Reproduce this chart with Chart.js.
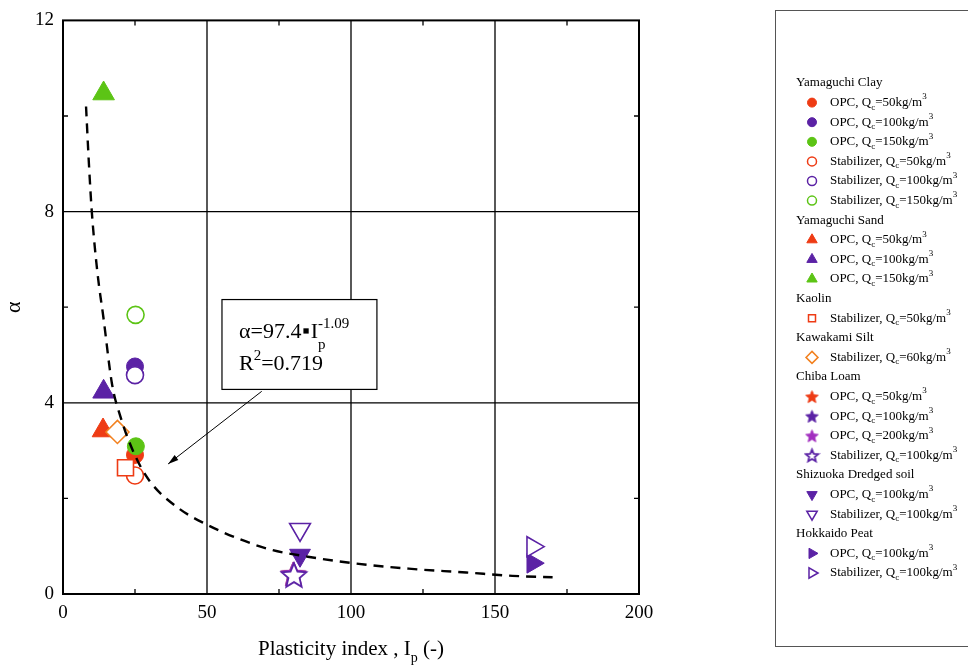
<!DOCTYPE html>
<html>
<head>
<meta charset="utf-8">
<script src="https://cdn.jsdelivr.net/npm/chart.js@4.4.0/dist/chart.umd.min.js"></script>
<style>
body { margin: 0; background: #fff; }
canvas { display: block; }
</style>
</head>
<body>
<canvas id="alphaChart" width="968" height="667"></canvas>
<script>
// soil groups shown in the legend
const groupNames = ["Yamaguchi Clay", "Yamaguchi Sand", "Kaolin", "Kawakami Silt", "Chiba Loam", "Shizuoka Dredged soil", "Hokkaido Peat"];

// one entry per series
const seriesGroup  = [0, 0, 0, 0, 0, 0, 1, 1, 1, 2, 3, 4, 4, 4, 4, 5, 5, 6, 6];
const seriesBinder = ["OPC", "OPC", "OPC", "Stabilizer", "Stabilizer", "Stabilizer",
                      "OPC", "OPC", "OPC", "Stabilizer", "Stabilizer",
                      "OPC", "OPC", "OPC", "Stabilizer", "OPC", "Stabilizer", "OPC", "Stabilizer"];
const seriesQc     = [50, 100, 150, 50, 100, 150, 50, 100, 150, 50, 60, 50, 100, 200, 100, 100, 100, 100, 100];
const seriesIp     = [25, 25, 25.3, 25, 25, 25.2, 13.9, 14.1, 14.1, 21.7, 18.9, 80, 80, 80, 80.2, 82.3, 82.3, 163.1, 163.1];
const seriesAlpha  = [2.91, 4.76, 3.09, 2.48, 4.58, 5.84, 3.42, 4.23, 10.47, 2.64, 3.39, 0.42, 0.42, 0.42, 0.40, 0.81, 1.35, 0.645, 0.99];

// fitted curve
const curveIp    = [8, 9, 10, 12, 14, 17, 20, 25, 30, 40, 50, 60, 72, 85, 100, 120, 140, 156, 170];
const curveAlpha = [10.2, 9.0, 8.0, 6.7, 5.8, 4.4, 3.7, 2.9, 2.37, 1.8, 1.45, 1.18, 0.93, 0.78, 0.65, 0.53, 0.45, 0.38, 0.35];

// axis ticks
const xLabels = [0, 50, 100, 150, 200];
const yLabels = [0, 4, 8, 12];
const xMinor = [25, 75, 125, 175];
const yMinor = [2, 6, 10];

// styles
const RED = "#ee3b14", PURPLE = "#5b22a5", GREEN = "#5cc415", ORANGE = "#f2811f", MAGENTA = "#a22fbf";
const seriesColor  = [RED, PURPLE, GREEN, RED, PURPLE, GREEN, RED, PURPLE, GREEN, RED, ORANGE, RED, PURPLE, MAGENTA, PURPLE, PURPLE, PURPLE, PURPLE, PURPLE];
const seriesShape  = ["circle", "circle", "circle", "circle", "circle", "circle", "triUp", "triUp", "triUp", "square", "diamond",
                      "star", "star", "star", "star", "triDown", "triDown", "triRight", "triRight"];
const seriesFilled = [true, true, true, false, false, false, true, true, true, false, false, true, true, true, false, true, false, true, false];

const FONT = "'Liberation Serif', 'Times New Roman', serif";

function makeStar(color, filled, R) {
    const c = document.createElement("canvas");
    const s = Math.ceil(2 * R + 4);
    c.width = s; c.height = s;
    const g = c.getContext("2d");
    const cx = s / 2, cy = s / 2 + R * 0.1;
    g.beginPath();
    for (let k = 0; k < 10; k++) {
        const r = k % 2 === 0 ? R : R * 0.45;
        const a = -Math.PI / 2 + k * Math.PI / 5;
        g.lineTo(cx + r * Math.cos(a), cy + r * Math.sin(a));
    }
    g.closePath();
    g.fillStyle = filled ? color : "#fff";
    g.fill();
    g.lineWidth = filled ? 1 : 1.8;
    g.strokeStyle = color;
    g.stroke();
    return c;
}

function markerStyle(i, small) {
    const shape = seriesShape[i];
    const col = seriesColor[i];
    const f = seriesFilled[i];
    switch (shape) {
        case "circle":   return { style: "circle", r: small ? 4.5 : 8.5, rot: 0 };
        case "triUp":    return { style: "triangle", r: small ? 6 : 12.5, rot: 0 };
        case "triDown":  return { style: "triangle", r: small ? 6 : 12, rot: 180 };
        case "triRight": return { style: "triangle", r: small ? 6 : 11.5, rot: 90 };
        case "square":   return { style: "rect", r: small ? 5 : 11.3, rot: 0 };
        case "diamond":  return { style: "rectRot", r: small ? 6 : 11.5, rot: 0 };
        case "star":     return { style: makeStar(col, f, small ? 6.5 : 13), r: small ? 6.5 : 13, rot: 0 };
    }
}

const pointSets = seriesIp.map((ip, i) => {
    const m = markerStyle(i, false);
    return {
        type: "scatter",
        data: [{ x: ip, y: seriesAlpha[i] }],
        order: seriesIp.length - i + 1,
        pointStyle: m.style,
        pointRadius: m.r,
        pointHoverRadius: m.r,
        pointRotation: m.rot,
        backgroundColor: seriesFilled[i] ? seriesColor[i] : "#fff",
        borderColor: seriesColor[i],
        borderWidth: seriesFilled[i] ? 1 : 1.6
    };
});

const curveSet = {
    type: "line",
    data: curveIp.map((x, i) => ({ x: x, y: curveAlpha[i] })),
    borderColor: "#000",
    borderWidth: 2.4,
    borderDash: [10, 7],
    pointRadius: 0,
    fill: false,
    cubicInterpolationMode: "monotone",
    order: 0
};

// rich text: n = normal, sub, sup, both = [sub, sup] stacked, dot = product dot
function rich(ctx, parts, x, y, size, draw) {
    const small = Math.round(size * 0.68);
    let cx = x;
    parts.forEach(p => {
        const k = p.k || "n";
        if (k === "n") {
            ctx.font = `${size}px ${FONT}`;
            if (draw) ctx.fillText(p.t, cx, y);
            cx += ctx.measureText(p.t).width;
        } else if (k === "sub" || k === "sup") {
            ctx.font = `${small}px ${FONT}`;
            if (draw) ctx.fillText(p.t, cx, y + (k === "sub" ? size * 0.35 : -size * 0.42));
            cx += ctx.measureText(p.t).width;
        } else if (k === "both") {
            ctx.font = `${small}px ${FONT}`;
            if (draw) {
                ctx.fillText(p.t[0], cx, y + size * 0.5);
                ctx.fillText(p.t[1], cx, y - size * 0.45);
            }
            cx += Math.max(ctx.measureText(p.t[0]).width, ctx.measureText(p.t[1]).width);
        } else if (k === "dot") {
            const d = size * 0.24;
            if (draw) ctx.fillRect(cx + 2, y - size * 0.3 - d / 2, d, d);
            cx += d + 4;
        }
    });
    return cx - x;
}

function drawMarker(ctx, i, x, y) {
    const m = markerStyle(i, true);
    ctx.save();
    if (typeof m.style !== "string") {
        ctx.drawImage(m.style, x - m.style.width / 2, y - m.style.height / 2);
        ctx.restore();
        return;
    }
    ctx.fillStyle = seriesFilled[i] ? seriesColor[i] : "#fff";
    ctx.strokeStyle = seriesColor[i];
    ctx.lineWidth = seriesFilled[i] ? 1 : 1.5;
    ctx.beginPath();
    const r = m.r;
    if (m.style === "circle") {
        ctx.arc(x, y, r, 0, Math.PI * 2);
    } else if (m.style === "triangle") {
        let a = m.rot * Math.PI / 180;
        for (let k = 0; k < 3; k++) {
            ctx.lineTo(x + Math.sin(a) * r, y - Math.cos(a) * r);
            a += Math.PI * 2 / 3;
        }
        ctx.closePath();
    } else if (m.style === "rect") {
        ctx.rect(x - r * 0.7, y - r * 0.7, r * 1.4, r * 1.4);
    } else if (m.style === "rectRot") {
        ctx.moveTo(x, y - r); ctx.lineTo(x + r, y); ctx.lineTo(x, y + r); ctx.lineTo(x - r, y);
        ctx.closePath();
    }
    ctx.fill();
    ctx.stroke();
    ctx.restore();
}

const framePlugin = {
    id: "frame",
    beforeDatasetsDraw(chart) {
        const { ctx, chartArea: a, scales: { x, y } } = chart;
        ctx.save();
        ctx.strokeStyle = "#000";
        ctx.lineWidth = 1.3;
        ctx.beginPath();
        xLabels.slice(1, -1).forEach(v => {
            const px = x.getPixelForValue(v);
            ctx.moveTo(px, a.top); ctx.lineTo(px, a.bottom);
        });
        yLabels.slice(1, -1).forEach(v => {
            const py = y.getPixelForValue(v);
            ctx.moveTo(a.left, py); ctx.lineTo(a.right, py);
        });
        xMinor.forEach(v => {
            const px = x.getPixelForValue(v);
            ctx.moveTo(px, a.bottom); ctx.lineTo(px, a.bottom - 5);
            ctx.moveTo(px, a.top); ctx.lineTo(px, a.top + 5);
        });
        yMinor.forEach(v => {
            const py = y.getPixelForValue(v);
            ctx.moveTo(a.left, py); ctx.lineTo(a.left + 5, py);
            ctx.moveTo(a.right, py); ctx.lineTo(a.right - 5, py);
        });
        ctx.stroke();
        ctx.lineWidth = 2;
        ctx.strokeRect(a.left, a.top, a.right - a.left, a.bottom - a.top);
        ctx.restore();
    },
    afterDatasetsDraw(chart) {
        const { ctx, chartArea: a, scales: { x, y } } = chart;
        ctx.save();
        // annotation box
        const bl = x.getPixelForValue(55.2), bt = y.getPixelForValue(6.16);
        const br = x.getPixelForValue(109), bb = y.getPixelForValue(4.28);
        ctx.fillStyle = "#fff";
        ctx.fillRect(bl, bt, br - bl, bb - bt);
        ctx.strokeStyle = "#000";
        ctx.lineWidth = 1.2;
        ctx.strokeRect(bl, bt, br - bl, bb - bt);
        ctx.fillStyle = "#000";
        ctx.textBaseline = "alphabetic";
        ctx.textAlign = "left";
        rich(ctx, [{ t: "\u03b1=97.4" }, { k: "dot" }, { t: "I" }, { k: "both", t: ["p", "-1.09"] }], bl + 17, bt + 38, 22, true);
        rich(ctx, [{ t: "R" }, { t: "2", k: "sup" }, { t: "=0.719" }], bl + 17, bt + 70, 22, true);

        // arrow
        const x0 = x.getPixelForValue(69), y0 = y.getPixelForValue(4.24);
        const x1 = x.getPixelForValue(36.5), y1 = y.getPixelForValue(2.72);
        ctx.lineWidth = 1;
        ctx.beginPath();
        ctx.moveTo(x0, y0); ctx.lineTo(x1, y1);
        ctx.stroke();
        const ang = Math.atan2(y1 - y0, x1 - x0);
        ctx.beginPath();
        ctx.moveTo(x1, y1);
        ctx.lineTo(x1 - 11 * Math.cos(ang - 0.28), y1 - 11 * Math.sin(ang - 0.28));
        ctx.lineTo(x1 - 11 * Math.cos(ang + 0.28), y1 - 11 * Math.sin(ang + 0.28));
        ctx.closePath();
        ctx.fill();
        ctx.restore();
    },
    afterDraw(chart) {
        const { ctx, chartArea: a } = chart;
        ctx.save();
        ctx.fillStyle = "#000";
        ctx.textBaseline = "alphabetic";
        // x axis title
        const titleParts = [{ t: "Plasticity index , I" }, { t: "p", k: "sub" }, { t: " (-)" }];
        const w = rich(ctx, titleParts, 0, 0, 21, false);
        rich(ctx, titleParts, (a.left + a.right) / 2 - w / 2, 655, 21, true);
        // y axis title
        ctx.save();
        ctx.translate(20, (a.top + a.bottom) / 2);
        ctx.rotate(-Math.PI / 2);
        ctx.font = `22px ${FONT}`;
        ctx.textAlign = "center";
        ctx.fillText("\u03b1", 0, 0);
        ctx.restore();

        // legend box
        ctx.strokeStyle = "#555";
        ctx.lineWidth = 1;
        ctx.strokeRect(775.5, 10.5, 300, 636);
        let row = 0;
        const rowY = r => 83 + r * 19.6;
        groupNames.forEach((name, gi) => {
            ctx.textAlign = "left";
            ctx.textBaseline = "middle";
            ctx.font = `13px ${FONT}`;
            ctx.fillStyle = "#000";
            ctx.fillText(name, 796, rowY(row));
            row++;
            seriesGroup.forEach((g, i) => {
                if (g !== gi) return;
                const yy = rowY(row);
                drawMarker(ctx, i, 812, yy);
                ctx.fillStyle = "#000";
                ctx.textBaseline = "middle";
                rich(ctx, [{ t: `${seriesBinder[i]}, Q` }, { t: "c", k: "sub" }, { t: `=${seriesQc[i]}kg/m` }, { t: "3", k: "sup" }], 830, yy, 13, true);
                row++;
            });
        });
        ctx.restore();
    }
};

new Chart(document.getElementById("alphaChart"), {
    type: "scatter",
    data: { datasets: [curveSet, ...pointSets] },
    options: {
        responsive: false,
        animation: false,
        devicePixelRatio: 1,
        layout: { padding: { top: 17, right: 329, left: 0, bottom: 0 } },
        plugins: { legend: { display: false }, tooltip: { enabled: false } },
        scales: {
            x: {
                type: "linear", min: 0, max: 200,
                grid: { display: false, drawTicks: false },
                border: { display: false },
                ticks: { stepSize: 50, padding: 8, color: "#000", font: { family: FONT, size: 19 } },
                afterFit: s => { s.height = 73; }
            },
            y: {
                type: "linear", min: 0, max: 12,
                grid: { display: false, drawTicks: false },
                border: { display: false },
                ticks: { stepSize: 4, padding: 9, color: "#000", font: { family: FONT, size: 19 } },
                afterFit: s => { s.width = 63; }
            }
        }
    },
    plugins: [framePlugin]
});
</script>
</body>
</html>
